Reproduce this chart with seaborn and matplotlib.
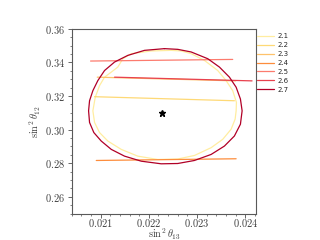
import numpy as np
import pandas as pd
import matplotlib.pyplot as plt
import seaborn as sns
from matplotlib.ticker import AutoMinorLocator

# niveis e cores
levels = ['2.1', '2.2', '2.3', '2.4', '2.5', '2.6', '2.7']
colors = ['#ffeda0', '#fed976', '#fec26b', '#fd8d3c', '#fc7b6e', '#e8414e', '#b10026']

# contorno interno (2.1)
x_21 = [0.022464, 0.022050, 0.021636, 0.021462, 0.021358, 0.021222, 0.021083, 0.020979,
        0.020890, 0.020841, 0.020876, 0.020979, 0.021151, 0.021429, 0.021772, 0.022186,
        0.022600, 0.022946, 0.023292, 0.023532, 0.023706, 0.023789, 0.023810, 0.023816,
        0.023739, 0.023602, 0.023429, 0.023153, 0.022878, 0.022671]
y_21 = [0.34717, 0.34681, 0.34519, 0.34219, 0.33721, 0.33421, 0.33121, 0.32618,
        0.31922, 0.31118, 0.30423, 0.29823, 0.29319, 0.28822, 0.28420, 0.28222,
        0.28250, 0.28460, 0.28924, 0.29421, 0.30021, 0.30621, 0.31118, 0.31622,
        0.32318, 0.32918, 0.33517, 0.34117, 0.34519, 0.34681]

# contorno externo (2.7)
x_27 = [0.022325, 0.021911, 0.021565, 0.021290, 0.021083, 0.020944, 0.020841, 0.020772,
        0.020752, 0.020772, 0.020861, 0.021014, 0.021222, 0.021497, 0.021843, 0.022257,
        0.022600, 0.022946, 0.023292, 0.023567, 0.023774, 0.023899, 0.023934, 0.023899,
        0.023810, 0.023671, 0.023464, 0.023222, 0.022878, 0.022600]
y_27 = [0.34819, 0.34717, 0.34417, 0.34021, 0.33517, 0.32918, 0.32318, 0.31718,
        0.31118, 0.30423, 0.29823, 0.29319, 0.28822, 0.28420, 0.28120, 0.27964,
        0.27982, 0.28162, 0.28522, 0.29019, 0.29619, 0.30321, 0.31118, 0.31820,
        0.32522, 0.33121, 0.33721, 0.34219, 0.34621, 0.34777]

# segmentos quase horizontais
x_22 = [0.020876, 0.023774]
y_22 = [0.31958, 0.31718]
x_23 = [0.020932, 0.023800]
y_23 = [0.33121, 0.32900]
x_24 = [0.020911, 0.023810]
y_24 = [0.28162, 0.28264]
x_25 = [0.020793, 0.023739]
y_25 = [0.34081, 0.34177]
x_26 = [0.021290, 0.024140]
y_26 = [0.33121, 0.32900]

# melhor ajuste
best_x = [0.02228]
best_y = [0.3100]

curves = {
    '2.1': (x_21 + x_21[:1], y_21 + y_21[:1]),
    '2.2': (x_22, y_22),
    '2.3': (x_23, y_23),
    '2.4': (x_24, y_24),
    '2.5': (x_25, y_25),
    '2.6': (x_26, y_26),
    '2.7': (x_27 + x_27[:1], y_27 + y_27[:1]),
}

sns.set_theme(style='ticks')
plt.rcParams['font.family'] = ['serif']
plt.rcParams['font.serif'] = ['cmr10', 'DejaVu Serif']
plt.rcParams['mathtext.fontset'] = 'cm'
plt.rcParams['axes.formatter.use_mathtext'] = True

fig, ax = plt.subplots(figsize=(3.2, 2.4), dpi=100)
fig.subplots_adjust(left=0.125, right=0.9, bottom=0.11, top=0.88)

for lvl, c in zip(levels, colors):
    xs, ys = curves[lvl]
    df = pd.DataFrame({'x': xs, 'y': ys})
    sns.lineplot(data=df, x='x', y='y', sort=False, estimator=None, color=c,
                 linewidth=0.9, label=lvl, ax=ax)

ax.plot(best_x, best_y, marker='*', color='black', markersize=5, linestyle='none')

ax.set_xlim(0.0204, 0.02423)
ax.set_ylim(0.25, 0.36)
ax.set_box_aspect(1)
ax.set_yticks([0.26, 0.28, 0.30, 0.32, 0.34, 0.36])
ax.set_xticks([0.021, 0.022, 0.023, 0.024])
ax.xaxis.set_minor_locator(AutoMinorLocator())
ax.yaxis.set_minor_locator(AutoMinorLocator())
ax.tick_params(labelsize=7.5, length=3, width=0.6, pad=1.5, colors='0.3', labelcolor='0.25')
ax.tick_params(axis='x', pad=-0.5)
ax.tick_params(which='minor', length=1.5, width=0.5, colors='0.3')
for s in ax.spines.values():
    s.set_color('0.35')
    s.set_linewidth(0.8)

ax.set_xlabel(r'$\sin^2\theta_{13}$', fontsize=7.5, color='0.25')
ax.set_ylabel(r'$\sin^2\theta_{12}$', fontsize=7.5, color='0.25')
ax.xaxis.set_label_coords(0.5, -0.07)
ax.yaxis.set_label_coords(-0.155, 0.5)

ax.legend(loc='upper left', bbox_to_anchor=(1.0, 0.98), frameon=False,
          prop={'family': 'DejaVu Sans', 'size': 5}, handlelength=2.4,
          labelspacing=0.42, borderaxespad=0.0, borderpad=0.1, handletextpad=0.55)

plt.savefig('out.png', dpi=100)
